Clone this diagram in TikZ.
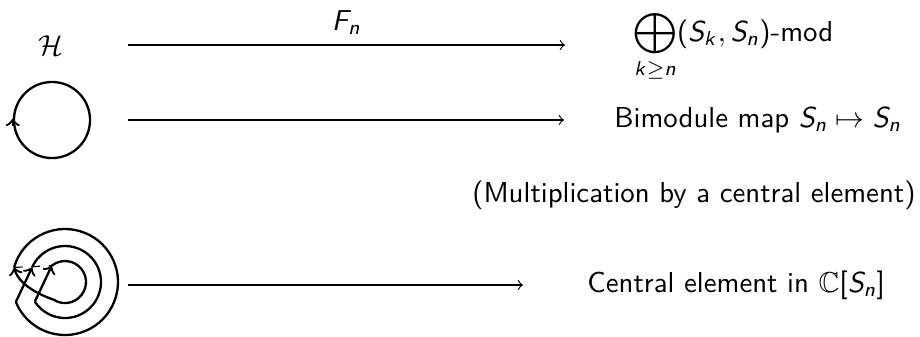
\documentclass[tikz,border=0pt]{standalone}
\usepackage{amsmath}
\usepackage{amssymb}
\usetikzlibrary{arrows,positioning}

% sans serif math, as on a slide
\SetSymbolFont{operators}{normal}{OT1}{cmss}{m}{n}
\DeclareMathAlphabet{\mathsl}{OT1}{cmss}{m}{sl}
\newcommand{\sv}[1]{\mathsl{#1}}

\begin{document}
\begin{tikzpicture}[x=0.347pt,y=-0.347pt,
  mapto/.style={->,thin},
  lbl/.style={font=\sffamily,inner sep=1pt},
  strand/.style={line width=0.8pt}]
\useasboundingbox (0,0) rectangle (920,336);

% Hecke algebra
\node[lbl] (hecke) at (51,46) {$\mathcal{H}$};

% Functor
\coordinate (a1) at (128,45);
\coordinate (b1) at (565,45);
\draw[mapto] (a1) -- node[lbl,above=2.5pt] (fn) {$\sv{F}_{\sv{n}}$} (b1);
\node[lbl,anchor=base west] (summ) at (630,41) {$\displaystyle\bigoplus_{\sv{k}\geq\sv{n}}(\sv{S}_{\sv{k}},\sv{S}_{\sv{n}})$-mod};

% Unknot
\node[strand,draw,circle,minimum size=26.4pt,inner sep=0pt] (unknot) at (52,120) {};
\draw[strand,->] ([yshift=-2pt]unknot.west) -- ([yshift=0.5pt]unknot.west);
\coordinate (a2) at (128,120);
\coordinate (b2) at (564,120);
\draw[mapto] (a2) -- (b2);
\node[lbl,anchor=west] (bimod) at (611,120) {Bimodule map $\sv{S}_{\sv{n}}\mapsto\sv{S}_{\sv{n}}$};
\node[lbl,anchor=east] (mult) at (919,195) {(Multiplication by a central element)};

% Closed braid
\begin{scope}[shift={(65,282)},x=0.347pt,y=0.347pt]
\coordinate (outtop) at (164:53);
\coordinate (midtop) at (156:36);
\coordinate (intop) at (129:21);
\coordinate (outbot) at (202:53);
\coordinate (midbot) at (213:36);
\coordinate (inbot) at (238:21);
\draw[strand] (outtop) arc (164:-158:53);
\draw[strand] (midtop) arc (156:-147:36);
\draw[strand] (intop) arc (129:-122:21);
\draw[strand,->] (outbot) -- (midtop);
\draw[strand,->] (midbot) -- (intop);
\draw[strand,->] (inbot) .. controls (-22,-14) and (-46,-4) .. (outtop);
\draw[thin,dashed] (outtop) -- (intop);
\end{scope}
\coordinate (a3) at (128,285);
\coordinate (b3) at (523,285);
\draw[mapto] (a3) -- (b3);
\node[lbl,anchor=west] (central) at (584,285) {Central element in $\mathbb{C}[\sv{S}_{\sv{n}}]$};
\end{tikzpicture}
\end{document}
